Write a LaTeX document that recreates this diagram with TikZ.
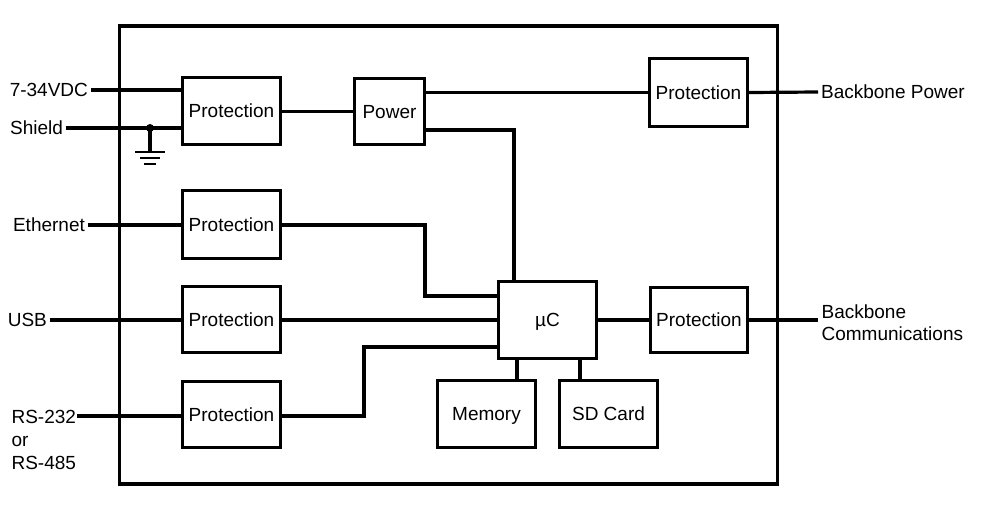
\documentclass[tikz,border=0pt]{standalone}
\usepackage{fontspec}
\setmainfont{Liberation Sans}
\begin{document}
\begin{tikzpicture}[x=1pt,y=-1pt,line width=3.2pt,
  blk/.style={draw,line width=3.2pt,inner sep=0pt,font=\fontsize{19}{21}\selectfont,text height=13.6pt,text depth=0pt},
  lbl/.style={inner sep=1.5pt,font=\fontsize{19}{21}\selectfont,text height=13.6pt,text depth=0pt},
  bl/.style={inner sep=0pt,font=\fontsize{19}{21}\selectfont,anchor=base west}]
\useasboundingbox (0,0) rectangle (989,517);
% frame
\draw (119.5,26) rectangle (777.5,484);
% blocks
\node[blk,minimum width=98pt,minimum height=67pt] (p1) at (231.5,111) {Protection};
\node[blk,minimum width=70pt,minimum height=66pt] (pw) at (389.5,111.5) {Power};
\node[blk,minimum width=98pt,minimum height=68pt] (p2) at (231.5,224.5) {Protection};
\node[blk,minimum width=98pt,minimum height=66pt] (p3) at (231.5,319.5) {Protection};
\node[blk,minimum width=98pt,minimum height=66pt] (p4) at (231.5,414.5) {Protection};
\node[blk,minimum width=98pt,minimum height=77pt] (uc) at (547.5,320) {µC};
\node[blk,minimum width=98pt,minimum height=67pt] (mem) at (486.5,414) {Memory};
\node[blk,minimum width=98pt,minimum height=67pt] (sd) at (608.5,414) {SD Card};
\node[blk,minimum width=98pt,minimum height=68pt] (pbp) at (698.5,92.5) {Protection};
\node[blk,minimum width=97pt,minimum height=65pt] (pbc) at (699,320) {Protection};
% external labels
\node[lbl,anchor=east] (lv) at (91,90) {7-34VDC};
\node[lbl,anchor=east] (ls) at (66,128) {Shield};
\node[lbl,anchor=east] (le) at (88,225) {Ethernet};
\node[lbl,anchor=east] (lu) at (50,320) {USB};
\node[bl] (lr1) at (10,423) {RS-232};
\node[bl] (lr2) at (10,446) {or};
\node[bl] (lr3) at (10,469) {RS-485};
\node[lbl,anchor=west] (lbp) at (818,92) {Backbone Power};
\node[bl] (lbc1) at (820,318) {Backbone};
\node[bl] (lbc2) at (820,340) {Communications};
% coordinates
\coordinate (rsend) at (77,416);
\coordinate (bpend) at (818,92);
\coordinate (bcend) at (818,320);
\coordinate (gnd) at (150,128);
\coordinate (g0) at (150,152);
% connectors
\draw (lv.east) -- (lv.east -| p1.west);
\draw (ls.east) -- (ls.east -| p1.west);
\fill (gnd) circle (4pt);
\draw (gnd) -- (g0);
\draw[line width=2.8pt] ([xshift=-15pt]g0) -- ([xshift=15pt]g0);
\draw[line width=2.8pt] ([xshift=-10pt,yshift=-6pt]g0) -- ([xshift=10pt,yshift=-6pt]g0);
\draw[line width=2.8pt] ([xshift=-6pt,yshift=-12pt]g0) -- ([xshift=6pt,yshift=-12pt]g0);
\draw (p1.east |- pw.west) -- (pw.west);
\draw (pw.east |- pbp.west) -- (pbp.west);
\draw (pbp.east) -- (bpend);
\draw (pw.east |- 0,130) -- (514,130) -- (514,0 |- uc.north);
\draw (le.east) -- (le.east -| p2.west);
\draw (p2.east |- 0,225) -- (425,225) -- (425,296) -- (uc.west |- 0,296);
\draw (lu.east) -- (lu.east -| p3.west);
\draw (p3.east |- 0,320) -- (uc.west |- 0,320);
\draw (rsend) -- (rsend -| p4.west);
\draw (p4.east |- 0,416) -- (364,416) -- (364,347) -- (uc.west |- 0,347);
\draw (uc.east |- pbc.west) -- (pbc.west);
\draw (pbc.east) -- (bcend);
\draw (517,0 |- uc.south) -- (517,0 |- mem.north);
\draw (580,0 |- uc.south) -- (580,0 |- sd.north);
\end{tikzpicture}
\end{document}
